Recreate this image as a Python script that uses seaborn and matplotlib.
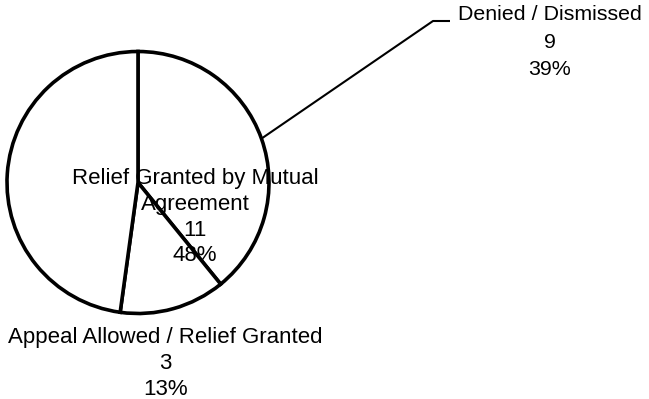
import matplotlib
matplotlib.use("Agg")
import matplotlib.pyplot as plt
import numpy as np
import seaborn as sns

# Appeal outcomes
categories = ["Denied / Dismissed", "Appeal Allowed / Relief Granted",
              "Relief Granted by Mutual Agreement"]
counts = [9, 3, 11]
label_lines = [["Denied / Dismissed"],
               ["Appeal Allowed / Relief Granted"],
               ["Relief Granted by Mutual", "Agreement"]]

sns.set_theme(style="white")
plt.rcParams["font.family"] = ["Liberation Sans", "DejaVu Sans"]

W, H = 649, 399
fig = plt.figure(figsize=(W / 100, H / 100), dpi=100)
ax = fig.add_axes([0, 0, 1, 1])

cx, cy, r = 138, H - 182.5, 131
wedges, _ = ax.pie(counts, startangle=90, counterclock=False,
                   colors=["white"] * len(counts), center=(cx, cy), radius=r,
                   frame=True,
                   wedgeprops=dict(edgecolor="black", linewidth=2.6))
ax.set_xlim(0, W)
ax.set_ylim(0, H)
ax.set_aspect("equal")
ax.axis("off")

total = sum(counts)
texts = []
for lines, v in zip(label_lines, counts):
    pct = 100 * v / total
    texts.append("\n".join(lines + [f"{v}", f"{pct:.0f}%"]))

# label anchors (x centre, first-line top) in pixel space, font size, spacing
anchors = [(550, 5), (165.5, 327), (195, 168)]
sizes = [15.4, 16.0, 16.0]
spacings = [1.58, 1.3, 1.3]
for t, (x, ytop), s, ls in zip(texts, anchors, sizes, spacings):
    ax.text(x, H - ytop, t, ha="center", va="top", fontsize=s,
            linespacing=ls, color="black")

# leader line for the first wedge
w0 = wedges[0]
mid = np.deg2rad((w0.theta1 + w0.theta2) / 2)
px, py = cx + r * np.cos(mid), cy + r * np.sin(mid)
ax.plot([px, 433, 450], [py, H - 21, H - 21], color="black", lw=1.5,
        solid_capstyle="butt", zorder=0.5)

fig.savefig("out.png", dpi=100, facecolor="white")
